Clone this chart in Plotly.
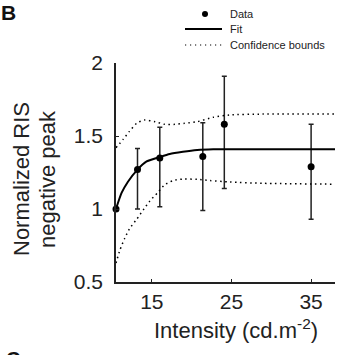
import plotly.graph_objects as go

# Measured responses (normalized RIS negative peak) vs. stimulus intensity
intensity = [10.5, 13.2, 16.0, 21.4, 24.1, 35.0]
response = [1.0, 1.27, 1.35, 1.36, 1.58, 1.29]
err_plus = [0.0, 0.145, 0.21, 0.23, 0.33, 0.29]
err_minus = [0.0, 0.27, 0.335, 0.37, 0.44, 0.36]

# Fitted saturation curve
fit_x = [10.5, 11.2, 12.0, 13.2, 14.3, 15.9, 17.25, 18.9, 20.7, 22.7, 26.0, 30.0, 38.0]
fit_y = [1.0, 1.11, 1.187, 1.27, 1.324, 1.354, 1.377, 1.392, 1.404, 1.409, 1.41, 1.41, 1.41]

# Confidence bounds of the fit
upper_x = [10.5, 11.4, 12.16, 13.09, 14.1, 15.4, 16.6, 17.9, 19.1, 20.7, 22.7, 24.75, 28.9, 38.0]
upper_y = [1.42, 1.477, 1.53, 1.587, 1.61, 1.598, 1.58, 1.58, 1.587, 1.598, 1.628, 1.644, 1.65, 1.65]
lower_x = [10.5, 11.0, 11.6, 12.2, 13.1, 14.0, 14.75, 15.7, 16.6, 17.7, 18.9, 20.7, 22.3, 24.8, 28.9, 38.0]
lower_y = [0.63, 0.72, 0.80, 0.865, 0.93, 1.0, 1.055, 1.11, 1.165, 1.195, 1.205, 1.203, 1.195, 1.185, 1.176, 1.17]

x_ticks = [15, 25, 35]
y_ticks = [0.5, 1, 1.5, 2]
y_ticktext = ["0.5", "1", "1.5", "2"]
legend_labels = ["Data", "Fit", "Confidence bounds"]

FONT = "Liberation Sans, Arial, Helvetica, sans-serif"
INK = "#222"
W, H = 340, 355
L, R, T, B = 116, 5, 63, 73
PW, PH = W - L - R, H - T - B
DOTS = "1.5px,3.5px"


def px(x):
    """Pixel column -> paper x."""
    return (x - L) / PW


def py(y):
    """Pixel row -> paper y."""
    return (H - B - y) / PH


fig = go.Figure()

fig.add_trace(go.Scatter(
    x=intensity, y=response, mode="markers", name=legend_labels[0],
    marker=dict(color="black", size=7),
    error_y=dict(type="data", array=err_plus, arrayminus=err_minus,
                 color=INK, thickness=1.5, width=2.5),
    cliponaxis=False, showlegend=False,
))
fig.add_trace(go.Scatter(
    x=fit_x, y=fit_y, mode="lines", name=legend_labels[1], showlegend=False,
    line=dict(color="black", width=2, shape="spline", smoothing=0.6),
))
for bx, by in ((upper_x, upper_y), (lower_x, lower_y)):
    fig.add_trace(go.Scatter(
        x=bx, y=by, mode="lines", name=legend_labels[2], showlegend=False,
        line=dict(color="black", width=1.5, dash=DOTS, shape="spline", smoothing=0.6),
    ))

# Compact key above the axes: glyphs as paper-space shapes, labels as annotations
key_rows = [14, 29, 45]
key_x0, key_x1, key_text = 185, 222, 228
shapes = [
    dict(type="circle", xref="paper", yref="paper",
         x0=px(202), x1=px(208), y0=py(key_rows[0] + 3), y1=py(key_rows[0] - 3),
         fillcolor="black", line=dict(width=0)),
    dict(type="line", xref="paper", yref="paper",
         x0=px(key_x0), x1=px(key_x1), y0=py(key_rows[1]), y1=py(key_rows[1]),
         line=dict(color="black", width=2)),
    dict(type="line", xref="paper", yref="paper",
         x0=px(key_x0), x1=px(key_x1), y0=py(key_rows[2]), y1=py(key_rows[2]),
         line=dict(color="black", width=1.2, dash="1.2px,3.8px")),
]

annotations = [
    dict(text=label, x=px(key_text), y=py(row), xref="paper", yref="paper",
         xanchor="left", yanchor="middle", showarrow=False,
         font=dict(size=11, family=FONT, color=INK))
    for label, row in zip(legend_labels, key_rows)
]
annotations += [
    dict(text="Intensity (cd.m<sup>-2</sup>)", x=px(236), y=py(329),
         xref="paper", yref="paper", xanchor="center", yanchor="middle",
         showarrow=False, font=dict(size=22, family=FONT, color=INK)),
    dict(text="Normalized RIS", x=px(21), y=py(179),
         xref="paper", yref="paper", xanchor="center", yanchor="middle",
         textangle=-90, showarrow=False,
         font=dict(size=22, family=FONT, color=INK)),
    dict(text="negative peak", x=px(47), y=py(179),
         xref="paper", yref="paper", xanchor="center", yanchor="middle",
         textangle=-90, showarrow=False,
         font=dict(size=22, family=FONT, color=INK)),
    dict(text="<b>B</b>", x=px(-1), y=py(-1), xref="paper", yref="paper",
         xanchor="left", yanchor="top", showarrow=False,
         font=dict(size=21, family=FONT, color="#111")),
    dict(text="<b>C</b>", x=px(4), y=py(346), xref="paper", yref="paper",
         xanchor="left", yanchor="top", showarrow=False,
         font=dict(size=20, family=FONT, color="#111")),
]

axis_common = dict(
    ticks="inside", ticklen=3, tickwidth=1.2, tickcolor=INK,
    showline=True, linecolor=INK, linewidth=1.5,
    showgrid=False, zeroline=False,
    tickfont=dict(size=21, family=FONT, color=INK),
)

fig.update_layout(
    width=W, height=H,
    margin=dict(l=L, r=R, t=T, b=B),
    paper_bgcolor="white", plot_bgcolor="white",
    font=dict(family=FONT, color=INK),
    showlegend=False,
    xaxis=dict(range=[10.5, 38], tickvals=x_ticks, **axis_common),
    yaxis=dict(range=[0.5, 2], tickvals=y_ticks, ticktext=y_ticktext,
               ticklabelstandoff=7, **axis_common),
    shapes=shapes,
    annotations=annotations,
)

fig.write_html("out.html")
